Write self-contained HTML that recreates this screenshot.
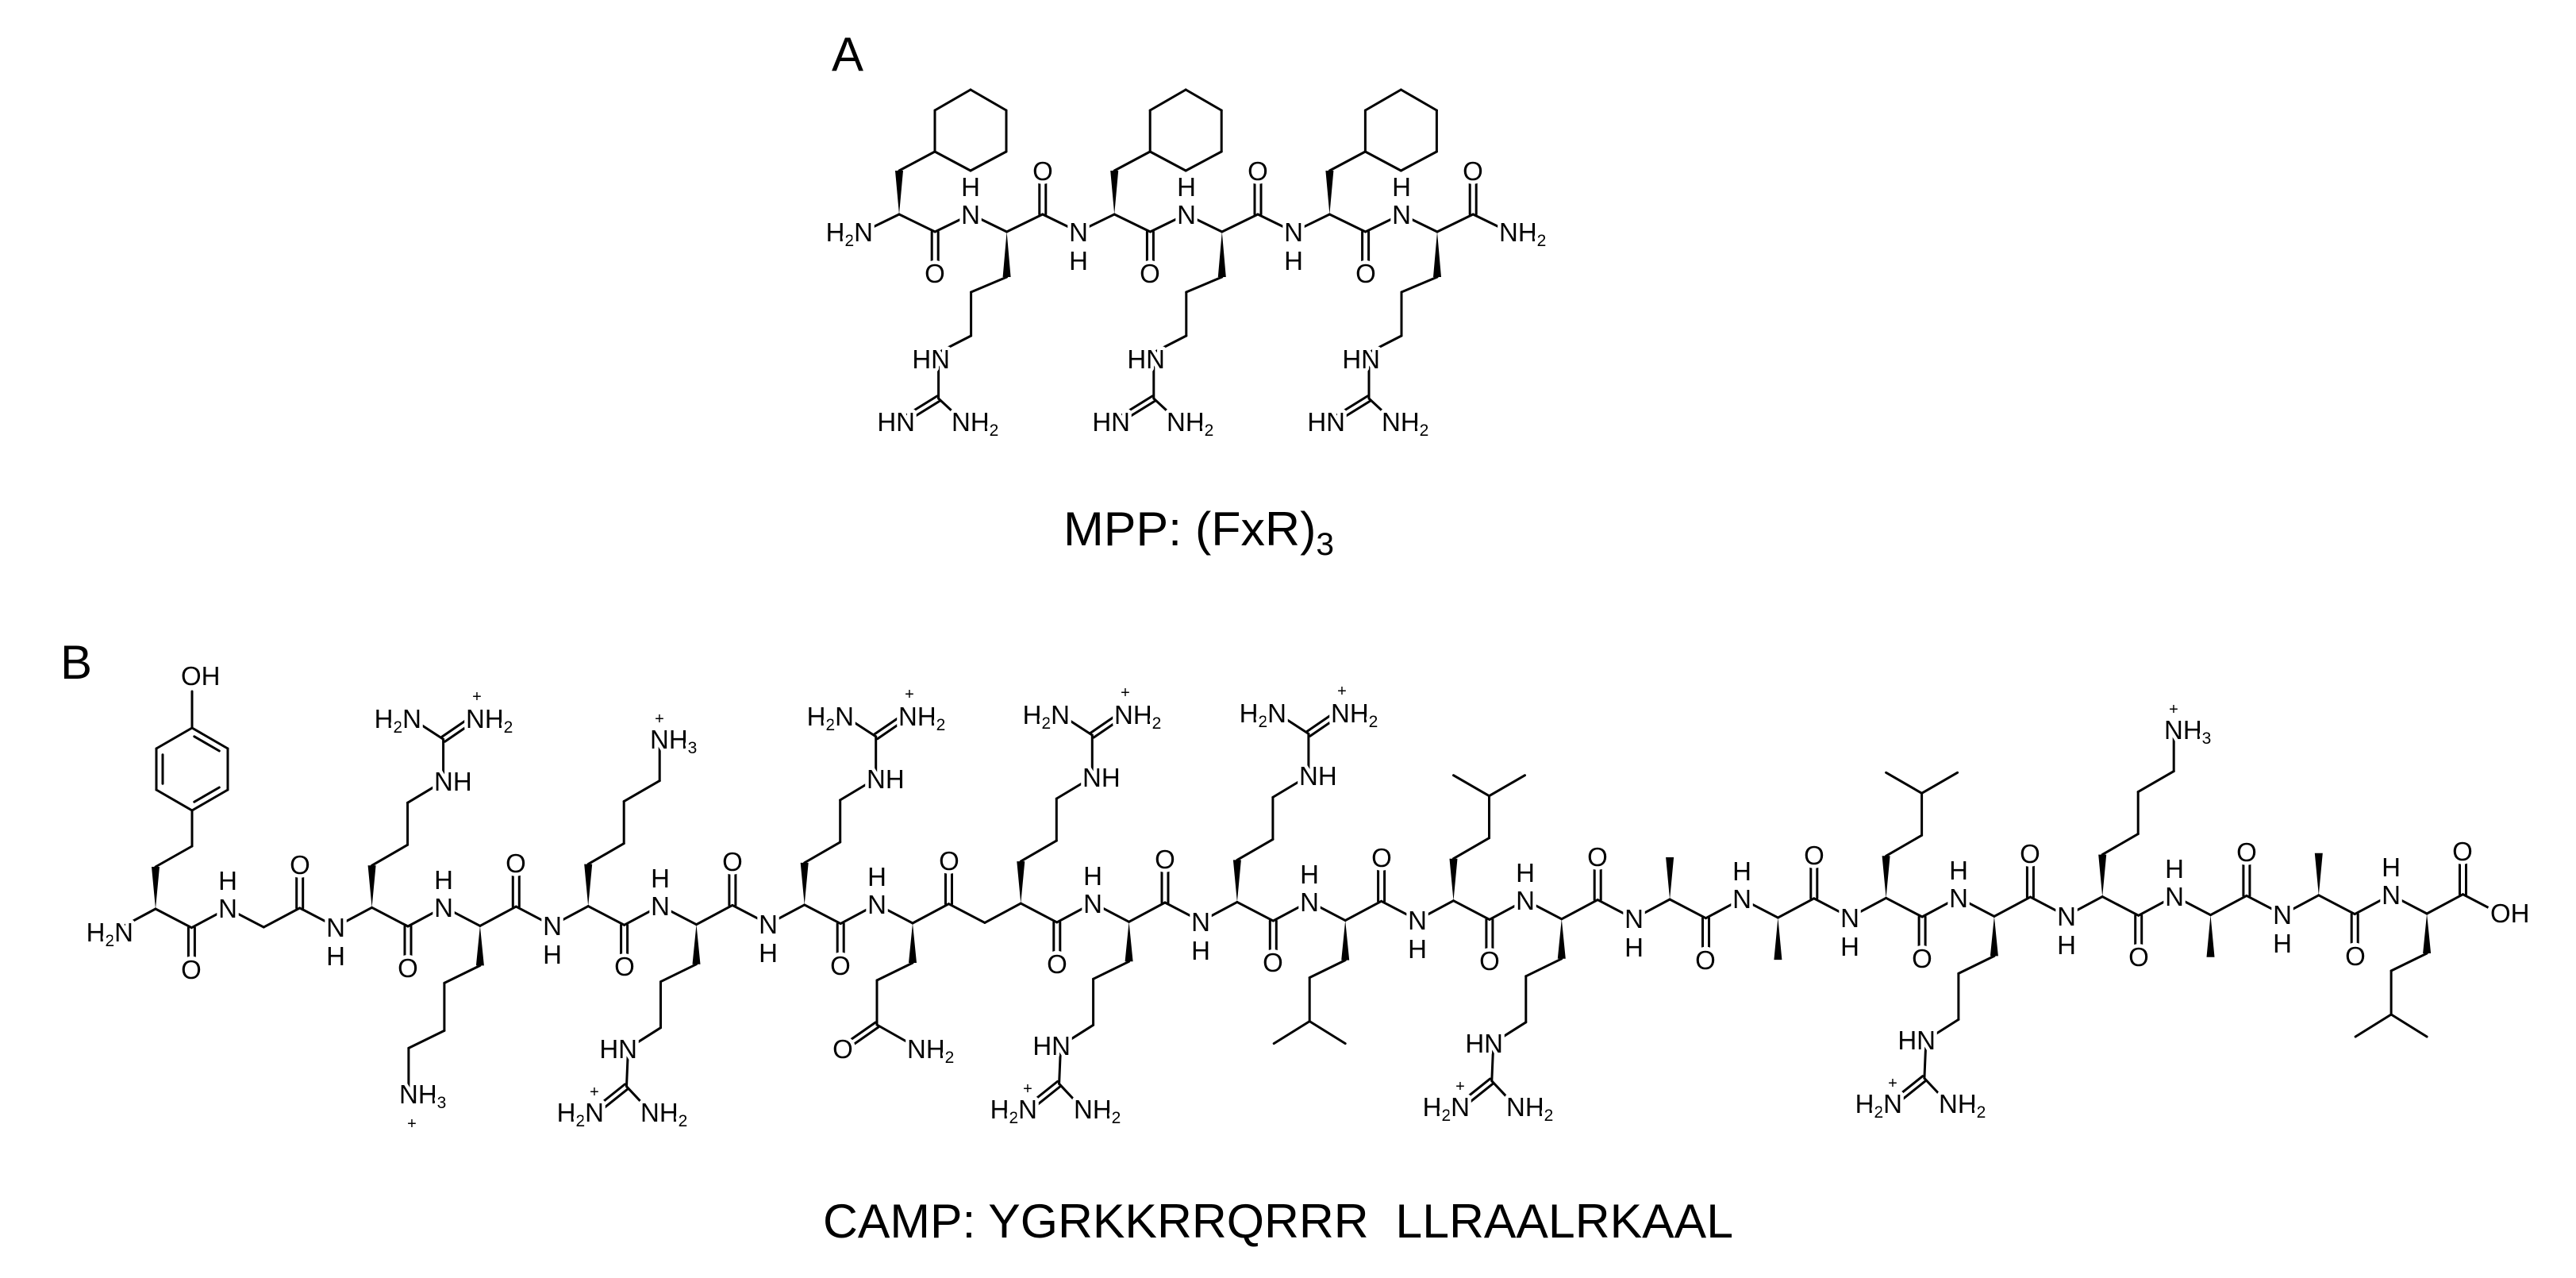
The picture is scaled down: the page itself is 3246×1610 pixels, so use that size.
<!DOCTYPE html>
<html><head><meta charset="utf-8">
<style>
html,body{margin:0;padding:0;background:#fff;}
svg{display:block;}
#b line{stroke:#000;stroke-width:3;stroke-linecap:round;}
#b polygon{fill:#000;}
#b circle{fill:#fff;stroke:none;}
.t text{font-family:"Liberation Sans",sans-serif;font-size:33px;fill:#000;paint-order:stroke;stroke:#fff;stroke-width:9px;stroke-linejoin:round;}
.t .m{text-anchor:middle;}
.t .e{text-anchor:end;}
.t .p{font-size:20px;stroke-width:0;text-anchor:middle;}
.big{font-family:"Liberation Sans",sans-serif;font-size:60px;fill:#000;}
</style></head><body>
<svg id="s" width="3246" height="1610" viewBox="0 0 3246 1610" xmlns="http://www.w3.org/2000/svg">
<rect width="3246" height="1610" fill="#fff"/>
<g id="b"></g>
<text class="big" x="1048" y="89">A</text>
<text class="big" x="76" y="855">B</text>
<text class="big" x="1340" y="687" textLength="341" lengthAdjust="spacingAndGlyphs">MPP: (FxR)<tspan font-size="40" dy="12">3</tspan></text>
<text class="big" x="1037" y="1559" textLength="1147" lengthAdjust="spacingAndGlyphs">CAMP: YGRKKRRQRRR&#160;&#160;LLRAALRKAAL</text>
<g class="t" transform="translate(0,12)">
<!-- A backbone -->
<text class="e" x="1100" y="292">H<tspan font-size="21" dy="6">2</tspan><tspan dy="-6">N</tspan></text>
<text class="m" x="1223" y="270">N</text><text class="m" x="1223" y="235">H</text>
<text class="m" x="1359" y="292">N</text><text class="m" x="1359" y="328">H</text>
<text class="m" x="1495" y="270">N</text><text class="m" x="1495" y="235">H</text>
<text class="m" x="1630" y="292">N</text><text class="m" x="1630" y="328">H</text>
<text class="m" x="1766" y="270">N</text><text class="m" x="1766" y="235">H</text>
<text class="m" x="1178" y="344">O</text><text class="m" x="1314" y="215">O</text>
<text class="m" x="1449" y="344">O</text><text class="m" x="1585" y="215">O</text>
<text class="m" x="1721" y="344">O</text><text class="m" x="1856" y="215">O</text>
<text x="1889" y="292">NH<tspan font-size="21" dy="6">2</tspan></text>
<!-- A Arg -->
<text class="e" x="1197" y="452">HN</text><text class="e" x="1153" y="531">HN</text><text x="1199" y="531">NH<tspan font-size="21" dy="6">2</tspan></text>
<text class="e" x="1468" y="452">HN</text><text class="e" x="1424" y="531">HN</text><text x="1470" y="531">NH<tspan font-size="21" dy="6">2</tspan></text>
<text class="e" x="1739" y="452">HN</text><text class="e" x="1695" y="531">HN</text><text x="1741" y="531">NH<tspan font-size="21" dy="6">2</tspan></text>
<!-- B backbone -->
<text class="e" x="168" y="1174">H<tspan font-size="21" dy="6">2</tspan><tspan dy="-6">N</tspan></text>
<text class="m" x="287" y="1144">N</text><text class="m" x="287" y="1109">H</text>
<text class="m" x="423" y="1168">N</text><text class="m" x="423" y="1204">H</text>
<text class="m" x="559" y="1143">N</text><text class="m" x="559" y="1108">H</text>
<text class="m" x="696" y="1166">N</text><text class="m" x="696" y="1202">H</text>
<text class="m" x="832" y="1141">N</text><text class="m" x="832" y="1106">H</text>
<text class="m" x="968" y="1164">N</text><text class="m" x="968" y="1200">H</text>
<text class="m" x="1105" y="1139">N</text><text class="m" x="1105" y="1104">H</text>
<text class="m" x="1377" y="1138">N</text><text class="m" x="1377" y="1103">H</text>
<text class="m" x="1513" y="1161">N</text><text class="m" x="1513" y="1197">H</text>
<text class="m" x="1650" y="1136">N</text><text class="m" x="1650" y="1101">H</text>
<text class="m" x="1786" y="1159">N</text><text class="m" x="1786" y="1195">H</text>
<text class="m" x="1922" y="1134">N</text><text class="m" x="1922" y="1099">H</text>
<text class="m" x="2059" y="1157">N</text><text class="m" x="2059" y="1193">H</text>
<text class="m" x="2195" y="1132">N</text><text class="m" x="2195" y="1097">H</text>
<text class="m" x="2331" y="1156">N</text><text class="m" x="2331" y="1192">H</text>
<text class="m" x="2468" y="1131">N</text><text class="m" x="2468" y="1096">H</text>
<text class="m" x="2604" y="1154">N</text><text class="m" x="2604" y="1190">H</text>
<text class="m" x="2740" y="1129">N</text><text class="m" x="2740" y="1094">H</text>
<text class="m" x="2876" y="1152">N</text><text class="m" x="2876" y="1188">H</text>
<text class="m" x="3013" y="1127">N</text><text class="m" x="3013" y="1092">H</text>
<text class="m" x="241" y="1221">O</text><text class="m" x="378" y="1089">O</text>
<text class="m" x="514" y="1219">O</text><text class="m" x="650" y="1087">O</text>
<text class="m" x="787" y="1217">O</text><text class="m" x="923" y="1085">O</text>
<text class="m" x="1059" y="1216">O</text><text class="m" x="1196" y="1084">O</text>
<text class="m" x="1332" y="1214">O</text><text class="m" x="1468" y="1082">O</text>
<text class="m" x="1604" y="1212">O</text><text class="m" x="1741" y="1080">O</text>
<text class="m" x="1877" y="1210">O</text><text class="m" x="2013" y="1079">O</text>
<text class="m" x="2149" y="1209">O</text><text class="m" x="2286" y="1077">O</text>
<text class="m" x="2422" y="1207">O</text><text class="m" x="2558" y="1075">O</text>
<text class="m" x="2695" y="1205">O</text><text class="m" x="2831" y="1073">O</text>
<text class="m" x="2968" y="1204">O</text><text class="m" x="3103" y="1072">O</text>
<text x="3138" y="1150">OH</text>
<!-- Tyr -->
<text x="228" y="851">OH</text>
<!-- Arg up -->
<text x="547" y="984">NH</text><text class="e" x="531" y="905">H<tspan font-size="21" dy="6">2</tspan><tspan dy="-6">N</tspan></text><text x="587" y="905">NH<tspan font-size="21" dy="6">2</tspan></text><text class="p" x="601" y="872">+</text>
<text x="1092" y="981">NH</text><text class="e" x="1076" y="902">H<tspan font-size="21" dy="6">2</tspan><tspan dy="-6">N</tspan></text><text x="1132" y="902">NH<tspan font-size="21" dy="6">2</tspan></text><text class="p" x="1146" y="869">+</text>
<text x="1364" y="979">NH</text><text class="e" x="1348" y="900">H<tspan font-size="21" dy="6">2</tspan><tspan dy="-6">N</tspan></text><text x="1404" y="900">NH<tspan font-size="21" dy="6">2</tspan></text><text class="p" x="1418" y="867">+</text>
<text x="1637" y="977">NH</text><text class="e" x="1621" y="898">H<tspan font-size="21" dy="6">2</tspan><tspan dy="-6">N</tspan></text><text x="1677" y="898">NH<tspan font-size="21" dy="6">2</tspan></text><text class="p" x="1691" y="865">+</text>
<!-- Arg down -->
<text class="e" x="803" y="1321">HN</text><text class="e" x="761" y="1401">H<tspan font-size="21" dy="6">2</tspan><tspan dy="-6">N</tspan></text><text x="807" y="1401">NH<tspan font-size="21" dy="6">2</tspan></text><text class="p" x="749" y="1370">+</text>
<text class="e" x="1349" y="1317">HN</text><text class="e" x="1307" y="1397">H<tspan font-size="21" dy="6">2</tspan><tspan dy="-6">N</tspan></text><text x="1353" y="1397">NH<tspan font-size="21" dy="6">2</tspan></text><text class="p" x="1295" y="1366">+</text>
<text class="e" x="1894" y="1314">HN</text><text class="e" x="1852" y="1394">H<tspan font-size="21" dy="6">2</tspan><tspan dy="-6">N</tspan></text><text x="1898" y="1394">NH<tspan font-size="21" dy="6">2</tspan></text><text class="p" x="1840" y="1363">+</text>
<text class="e" x="2439" y="1310">HN</text><text class="e" x="2397" y="1390">H<tspan font-size="21" dy="6">2</tspan><tspan dy="-6">N</tspan></text><text x="2443" y="1390">NH<tspan font-size="21" dy="6">2</tspan></text><text class="p" x="2385" y="1359">+</text>
<!-- Lys -->
<text x="503" y="1378">NH<tspan font-size="21" dy="6">3</tspan></text><text class="p" x="519" y="1410">+</text>
<text x="819" y="931">NH<tspan font-size="21" dy="6">3</tspan></text><text class="p" x="831" y="900">+</text>
<text x="2727" y="919">NH<tspan font-size="21" dy="6">3</tspan></text><text class="p" x="2739" y="888">+</text>
<!-- Gln -->
<text class="m" x="1062" y="1321">O</text><text x="1143" y="1321">NH<tspan font-size="21" dy="6">2</tspan></text>
</g>
</svg>
<script>
(function(){
var h='',cir='';
function r(v){return Math.round(v*10)/10;}
function l(a,b){h+='<line x1="'+r(a[0])+'" y1="'+r(a[1])+'" x2="'+r(b[0])+'" y2="'+r(b[1])+'"/>';}
function pl(p){for(var i=0;i<p.length-1;i++)l(p[i],p[i+1]);}
function w(a,b){var dx=b[0]-a[0],dy=b[1]-a[1],L=Math.hypot(dx,dy),nx=-dy/L*5,ny=dx/L*5;h+='<polygon points="'+r(a[0])+','+r(a[1])+' '+r(b[0]+nx)+','+r(b[1]+ny)+' '+r(b[0]-nx)+','+r(b[1]-ny)+'"/>';}
function d(a,b,o){o=o||4;var dx=b[0]-a[0],dy=b[1]-a[1],L=Math.hypot(dx,dy),nx=-dy/L*o,ny=dx/L*o;l([a[0]+nx,a[1]+ny],[b[0]+nx,b[1]+ny]);l([a[0]-nx,a[1]-ny],[b[0]-nx,b[1]-ny]);}
function oc(x,y){cir+='<circle cx="'+r(x)+'" cy="'+r(y)+'" r="16"/>';}
function inner(a,b,c){
 var mx=(a[0]+b[0])/2,my=(a[1]+b[1])/2,vx=c[0]-mx,vy=c[1]-my,L=Math.hypot(vx,vy);vx=vx/L*8;vy=vy/L*8;
 var sx=(b[0]-a[0])*0.15,sy=(b[1]-a[1])*0.15;l([a[0]+vx+sx,a[1]+vy+sy],[b[0]+vx-sx,b[1]+vy-sy]);}
/* ---------- A ---------- */
function XA(i){return 1133+45.2*i;} function YA(i){return (Math.abs(i)%2===0)?270:292;}
function PA(i){return [XA(i),YA(i)];}
for(var i=-1;i<17;i++)l(PA(i),PA(i+1));
for(var k=0;k<6;k++){var c=3*k+1,p=PA(c),oy=(k%2===0)?p[1]+52:p[1]-55;d(p,[p[0],oy]);oc(p[0],oy);}
for(var k=0;k<6;k++){var a=PA(3*k),ax=a[0],ay=a[1];
 if(k%2===0){
  w(a,[ax,ay-55]);l([ax,ay-55],[ax+45,ay-79]);
  var R=[[ax+45,ay-79],[ax+45,ay-131],[ax+90,ay-157],[ax+135,ay-131],[ax+135,ay-79],[ax+90,ay-55]];
  pl(R.concat([R[0]]));
 } else {
  w(a,[ax,ay+57]);pl([[ax,ay+57],[ax-45,ay+76],[ax-45,ay+131],[ax-84,ay+151]]);
  var C=[ax-86,ay+210];l([ax-86,ay+153],C);d(C,[ax-128,ay+236],3.5);l(C,[ax-58,ay+236]);
 }}
/* ---------- B ---------- */
function X(i){return 196+45.43*i;} function Y(i){return ((Math.abs(i)%2===0)?1145:1169)-0.286*i;}
function P(i){return [X(i),Y(i)];}
for(var i=-1;i<65;i++)l(P(i),P(i+1));
oc(3150,1150);
for(var k=0;k<22;k++){var c=3*k+1,p=P(c),oy=(k%2===0)?p[1]+52:p[1]-55;d(p,[p[0],oy]);oc(p[0],oy);}
var seq='YGRKKRRQRRRLLRAALRKAAL';
for(var k=0;k<22;k++){var t=seq[k],a=P(3*k),ax=a[0],ay=a[1],up=(k%2===0);
 if(t==='G')continue;
 if(t==='A'){w(a,[ax,up?ay-53:ay+53]);continue;}
 if(t==='Y'){w(a,[ax,ay-53]);l([ax,ay-53],[ax+46,ay-79]);var cx=ax+46,by=ay-124;l([cx,ay-79],[cx,by]);
  var R=[[cx,by],[cx-45,by-26],[cx-45,by-78],[cx,by-104],[cx+45,by-78],[cx+45,by-26]];pl(R.concat([R[0]]));
  var ce=[cx,by-52];inner(R[1],R[2],ce);inner(R[3],R[4],ce);inner(R[5],R[0],ce);
  l([cx,by-104],[cx,by-150]);oc(244,851);continue;}
 if(up){
  w(a,[ax,ay-53]);pl([[ax,ay-53],[ax+45,ay-79],[ax+45,ay-132]]);
  if(t==='L'){l([ax+45,ay-132],[ax,ay-158]);l([ax+45,ay-132],[ax+90,ay-158]);}
  if(t==='K'){pl([[ax+45,ay-132],[ax+90,ay-158],[ax+90,ay-211]]);}
  if(t==='R'){pl([[ax+45,ay-132],[ax+90,ay-159]]);var C=[ax+90,ay-212];l([ax+90,ay-159],C);l(C,[ax+50,ay-238]);d(C,[ax+128,ay-238],3.5);}
 } else {
  w(a,[ax,ay+50]);pl([[ax,ay+50],[ax-45,ay+72]]);
  if(t==='L'){var q=[ax-45,ay+127];l([ax-45,ay+72],q);l(q,[ax-90,ay+155]);l(q,[ax,ay+155]);}
  if(t==='K'){pl([[ax-45,ay+72],[ax-45,ay+132],[ax-90,ay+154],[ax-90,ay+212]]);}
  if(t==='R'){pl([[ax-45,ay+72],[ax-45,ay+130],[ax-86,ay+156]]);var C=[ax-88,ay+204];l([ax-86,ay+156],C);d(C,[ax-128,ay+236],3.5);l(C,[ax-58,ay+236]);}
  if(t==='Q'){var C=[ax-45,ay+128];l([ax-45,ay+72],C);d(C,[ax-88,ay+158],3.5);l(C,[ax+8,ay+158]);oc(ax-88,ay+158);}
 }}
document.getElementById('b').innerHTML=h+cir;
})();
</script>
</body></html>
